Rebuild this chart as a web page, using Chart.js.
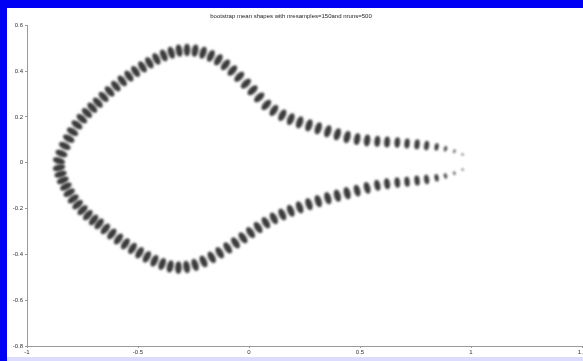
<!DOCTYPE html>
<html>
<head>
<meta charset="utf-8">
<script src="https://cdn.jsdelivr.net/npm/chart.js@4"></script>
<style>
  html, body { margin: 0; padding: 0; width: 583px; height: 361px; overflow: hidden; background: #fff; }
  #chart { position: absolute; left: 0; top: 0; }
  .frame { position: absolute; }
</style>
</head>
<body>
<canvas id="chart" width="620" height="361"></canvas>
<div class="frame" style="left:0;top:0;width:583px;height:8px;background:#0000f5;"></div>
<div class="frame" style="left:0;top:0;width:7px;height:361px;background:#0000f5;"></div>
<div class="frame" style="left:7px;top:357px;width:576px;height:4px;background:#dcdcff;"></div>
<script>
// mean landmark positions (upper half: right tip -> left tip)
const upperX = [0.962, 0.925, 0.885, 0.845, 0.800, 0.757, 0.712, 0.668, 0.622, 0.578, 0.532, 0.487, 0.442, 0.398, 0.355, 0.312, 0.270, 0.228, 0.188, 0.150, 0.112, 0.078, 0.046, 0.016, -0.014, -0.044, -0.075, -0.106, -0.138, -0.172, -0.207, -0.243, -0.279, -0.315, -0.350, -0.384, -0.417, -0.449, -0.480, -0.511, -0.541, -0.571, -0.600, -0.628, -0.655, -0.681, -0.706, -0.730, -0.753, -0.775, -0.795, -0.812, -0.830, -0.845, -0.856];
const upperY = [0.036, 0.050, 0.061, 0.069, 0.075, 0.080, 0.084, 0.088, 0.090, 0.093, 0.097, 0.103, 0.112, 0.124, 0.137, 0.150, 0.163, 0.176, 0.190, 0.207, 0.228, 0.252, 0.285, 0.316, 0.345, 0.375, 0.402, 0.427, 0.449, 0.466, 0.480, 0.489, 0.492, 0.489, 0.480, 0.468, 0.453, 0.436, 0.418, 0.398, 0.378, 0.357, 0.334, 0.311, 0.287, 0.262, 0.240, 0.217, 0.192, 0.165, 0.135, 0.105, 0.073, 0.040, 0.008];

// lower half: right tip -> left tip
const lowerX = [0.962, 0.925, 0.885, 0.845, 0.800, 0.757, 0.712, 0.668, 0.622, 0.578, 0.532, 0.487, 0.442, 0.398, 0.355, 0.312, 0.270, 0.228, 0.188, 0.150, 0.112, 0.076, 0.041, 0.007, -0.027, -0.061, -0.096, -0.132, -0.168, -0.205, -0.243, -0.281, -0.318, -0.355, -0.391, -0.426, -0.460, -0.493, -0.525, -0.557, -0.588, -0.618, -0.647, -0.675, -0.700, -0.726, -0.750, -0.772, -0.792, -0.810, -0.825, -0.839, -0.849, -0.856];
const lowerY = [-0.030, -0.046, -0.058, -0.066, -0.073, -0.078, -0.083, -0.087, -0.092, -0.099, -0.110, -0.122, -0.133, -0.144, -0.155, -0.168, -0.181, -0.195, -0.210, -0.226, -0.243, -0.262, -0.283, -0.305, -0.328, -0.350, -0.372, -0.393, -0.413, -0.431, -0.446, -0.455, -0.458, -0.453, -0.442, -0.428, -0.411, -0.393, -0.374, -0.354, -0.333, -0.311, -0.289, -0.267, -0.250, -0.229, -0.207, -0.183, -0.158, -0.131, -0.104, -0.077, -0.050, -0.022];

const xTicks = [-1, -0.5, 0, 0.5, 1, 1.5];
const yTicks = [-0.8, -0.6, -0.4, -0.2, 0, 0.2, 0.4, 0.6];
const titleText = 'bootstrap mean shapes with nresamples=150and nruns=500';

const font = 'Liberation Sans';

// blurry blob that stands in for one cluster of bootstrap samples
const blobCache = {};
function blob(scale) {
    const key = scale.toFixed(2);
    if (blobCache[key]) return blobCache[key];
    const rx = Math.max(0.8, 3.4 * Math.max(scale, 0.3));
    const ry = Math.max(0.8, 6.2 * scale);
    const c = document.createElement('canvas');
    c.width = Math.ceil(rx * 2 + 6);
    c.height = Math.ceil(ry * 2 + 6);
    const g = c.getContext('2d');
    g.filter = 'blur(0.8px)';
    g.fillStyle = 'rgba(62,62,62,0.95)';
    g.beginPath();
    g.ellipse(c.width / 2, c.height / 2, rx, ry, 0, 0, Math.PI * 2);
    g.fill();
    // a darker streak through the middle, like the stacked sample marks
    g.strokeStyle = 'rgba(35,35,35,0.7)';
    g.lineWidth = Math.max(0.6, rx * 0.5);
    g.beginPath();
    g.moveTo(c.width / 2, c.height / 2 - ry * 0.8);
    g.lineTo(c.width / 2, c.height / 2 + ry * 0.8);
    g.stroke();
    blobCache[key] = c;
    return c;
}

// clusters shrink towards the open tip on the right
function sizeFor(x) {
    if (x < 0.45) return 1;
    if (x < 0.8) return 1 - (x - 0.45) * 0.7;
    if (x < 0.9) return 0.75 - (x - 0.8) * 3.5;
    return Math.max(0.15, 0.4 - (x - 0.9) * 4);
}

// blobs sit across the outline, so turn them with the local tangent
function angleFor(ctx) {
    const d = ctx.dataset.data;
    const i = ctx.dataIndex;
    const a = d[Math.max(0, i - 1)];
    const b = d[Math.min(d.length - 1, i + 1)];
    const sx = ctx.chart.scales.x, sy = ctx.chart.scales.y;
    const dx = sx.getPixelForValue(b.x) - sx.getPixelForValue(a.x);
    const dy = sy.getPixelForValue(b.y) - sy.getPixelForValue(a.y);
    return Math.atan2(dy, dx) * 180 / Math.PI;
}

const pointOpts = {
    showLine: false,
    pointRadius: 3,
    pointStyle: ctx => blob(Math.round(sizeFor(ctx.raw.x) * 20) / 20),
    rotation: ctx => angleFor(ctx)
};

const tickLabel = v => String(Number(v.toFixed(1)));

new Chart(document.getElementById('chart'), {
    type: 'scatter',
    data: {
        datasets: [
            Object.assign({ label: 'upper', data: upperX.map((x, i) => ({ x: x, y: upperY[i] })) }, pointOpts),
            Object.assign({ label: 'lower', data: lowerX.map((x, i) => ({ x: x, y: lowerY[i] })) }, pointOpts)
        ]
    },
    options: {
        responsive: false,
        animation: false,
        devicePixelRatio: 1,
        layout: { padding: { left: 0, right: 38, top: 0, bottom: 0 } },
        plugins: {
            legend: { display: false },
            tooltip: { enabled: false },
            title: {
                display: true,
                text: titleText,
                color: '#222',
                font: { family: font, size: 6, weight: 'normal', lineHeight: 1.2 },
                padding: { top: 13, bottom: 5 }
            }
        },
        scales: {
            x: {
                type: 'linear',
                min: -1,
                max: 1.5,
                afterBuildTicks: s => { s.ticks = xTicks.map(v => ({ value: v })); },
                afterFit: s => { s.height = 15; },
                border: { color: '#9a9a9a', width: 1 },
                grid: { drawOnChartArea: false, tickLength: 2, color: '#9a9a9a' },
                ticks: { color: '#333', padding: 1, maxRotation: 0, font: { family: font, size: 6 }, callback: tickLabel }
            },
            y: {
                type: 'linear',
                min: -0.8,
                max: 0.6,
                afterBuildTicks: s => { s.ticks = yTicks.map(v => ({ value: v })); },
                afterFit: s => { s.width = 27; },
                border: { color: '#9a9a9a', width: 1 },
                grid: { drawOnChartArea: false, tickLength: 2, color: '#9a9a9a' },
                ticks: { color: '#333', padding: 2, font: { family: font, size: 6 }, callback: tickLabel }
            }
        }
    }
});
</script>
</body>
</html>
